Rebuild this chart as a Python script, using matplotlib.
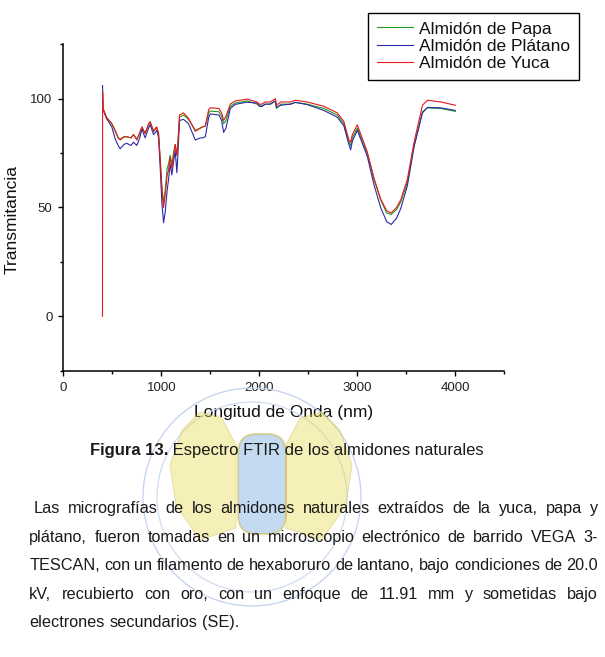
import matplotlib
matplotlib.use("Agg")
import matplotlib.pyplot as plt
from matplotlib.patches import Ellipse, Polygon, FancyBboxPatch
from matplotlib.ticker import MultipleLocator, FixedLocator

plt.rcParams['font.family'] = ['Liberation Sans', 'DejaVu Sans']

# ---------------- data ----------------
wavenumber = [400, 401, 405, 440, 495, 530, 560, 580, 620, 648, 690, 716, 750, 780, 802, 835,
              870, 887, 921, 940, 955, 972, 989, 1006, 1023, 1040, 1060, 1074, 1090, 1108,
              1125, 1142, 1159, 1170, 1186, 1227, 1278, 1347, 1398, 1420, 1449, 1484, 1500,
              1588, 1615, 1636, 1660, 1704, 1755, 1875, 1977, 2000, 2028, 2060, 2113, 2164,
              2175, 2220, 2318, 2369, 2488, 2659, 2796, 2863, 2914, 2932, 2950, 3000, 3102,
              3170, 3238, 3300, 3345, 3400, 3443, 3511, 3579, 3665, 3716, 3852, 4000]

papa = [103, 103, 95.5, 91.5, 88.5, 85.5, 82, 81.5, 82.5, 82.5, 82, 83.5, 81.5, 84, 87, 84,
        88, 89, 85, 86, 86.5, 84, 72, 60, 52, 58, 68, 70, 74, 70,
        75, 79, 74, 80, 91.5, 92.5, 90.5, 85.5, 86.5, 87, 87.5, 93.5, 94.3,
        94, 92, 88.5, 90, 96.5, 98, 99, 97.5, 97, 96.5, 97.5, 97.5, 99,
        95.5, 97.5, 97.5, 98.3, 97.5, 95.5, 92.5, 88.5, 80, 78.5, 82, 86.5, 75,
        63, 53.5, 47.5, 46.8, 49, 52.5, 61.5, 78, 94, 95.8, 95.5, 94.2]

platano = [106, 106, 95, 91, 87, 81.5, 78.5, 77, 79, 79.5, 78.5, 80, 78.5, 82, 86, 82,
           86.5, 88, 83.5, 84.5, 85.5, 82, 68, 52, 43, 48, 58, 63, 70, 65,
           71, 76, 66, 75, 90, 90.5, 88.5, 81, 82, 82, 82.5, 91.5, 93,
           92.5, 90, 84.5, 86.5, 95.5, 97.4, 98.4, 98, 96.5, 96.5, 97.5, 97.5, 99,
           96, 97, 97.5, 98.3, 97.3, 94.6, 91.5, 87.5, 79, 76.5, 80.5, 85.5, 73.5,
           60.5, 50, 43.5, 42.2, 45, 49.5, 60, 78, 93.5, 96, 95.8, 94.6]

yuca = [0, 103, 95.5, 91.5, 88.5, 85, 82, 81, 82.5, 82.5, 82, 83.5, 81, 84.5, 87, 84,
        88.5, 89.5, 85, 86.5, 87, 84, 72, 58, 50, 56, 65, 67, 73, 68,
        74, 79, 74, 80, 92.5, 93.5, 91, 85, 86.5, 87, 87.5, 95, 95.8,
        95.5, 93.5, 90, 92, 97.5, 99, 99.8, 98.5, 97.5, 97.5, 98.5, 98.5, 100,
        97, 98.5, 98.5, 99.3, 98.5, 96.5, 93.5, 89.5, 81, 80, 83.5, 88, 75.5,
        63.5, 54, 48.5, 47.5, 50, 53.5, 63, 80, 97, 99.3, 98.5, 97]

series_names = ["Almidón de Papa", "Almidón de Plátano", "Almidón de Yuca"]
series_colors = ["#1f9a1f", "#2a2aa8", "#e81818"]

x_major = [0, 1000, 2000, 3000, 4000]
y_major = [0, 50, 100]

caption_bold = "Figura 13."
caption_rest = " Espectro FTIR de los almidones naturales"
paragraph_lines = [
    " Las micrografías de los almidones naturales extraídos de la yuca, papa y",
    "plátano, fueron tomadas en un microscopio electrónico de barrido VEGA 3-",
    "TESCAN, con un filamento de hexaboruro de lantano, bajo condiciones de 20.0",
    "kV, recubierto con oro, con un enfoque de 11.91 mm y sometidas bajo",
    "electrones secundarios (SE).",
]

# ---------------- figure ----------------
W, H = 605, 657
fig = plt.figure(figsize=(W / 100, H / 100), dpi=100)
fig.patch.set_facecolor("white")


def fx(px):
    return px / W


def fy(py):
    return 1 - py / H


# watermark (faint logo)
for r, c in [(109, "#c2d2ec"), (95, "#d0dcf0")]:
    fig.patches.append(Ellipse((fx(252), fy(497)), 2 * r / W, 2 * r / H,
                               transform=fig.transFigure, fill=False,
                               edgecolor=c, lw=0.9, zorder=0))
lw_pts = [(236, 445), (222, 418), (200, 412), (182, 430), (170, 465), (176, 505),
          (200, 540), (236, 528)]
rw_pts = [(286, 445), (300, 418), (322, 412), (340, 430), (352, 465), (346, 505),
          (322, 540), (286, 528)]
for pts in (lw_pts, rw_pts):
    fig.patches.append(Polygon([(fx(a), fy(b)) for a, b in pts], closed=True,
                               transform=fig.transFigure, facecolor="#e6d94e",
                               edgecolor="#c4b438", lw=0.6, alpha=0.4, zorder=0))
fig.patches.append(FancyBboxPatch((fx(238), fy(534)), fx(286) - fx(238), fy(434) - fy(534),
                                  boxstyle="round,pad=0,rounding_size=0.03",
                                  transform=fig.transFigure, facecolor="#7aaee0",
                                  edgecolor="#d0b030", lw=1.5, alpha=0.45, zorder=0))

# axes
x0, x1 = 63.3, 504.3
y0, y1 = 44.3, 370.7
ax = fig.add_axes([fx(x0), fy(y1), (x1 - x0) / W, (y1 - y0) / H])
ax.set_facecolor("none")

for name, vals, col in zip(series_names, [papa, platano, yuca], series_colors):
    ax.plot(wavenumber, vals, color=col, lw=0.8, label=name)

ax.set_xlim(0, 4500)
ax.set_ylim(-25, 125)
ax.xaxis.set_major_locator(FixedLocator(x_major))
ax.xaxis.set_minor_locator(MultipleLocator(500))
ax.yaxis.set_major_locator(FixedLocator(y_major))
ax.yaxis.set_minor_locator(MultipleLocator(25))
for s in ("top", "right"):
    ax.spines[s].set_visible(False)
for s in ("left", "bottom"):
    ax.spines[s].set_linewidth(1.1)
ax.tick_params(which="major", direction="out", length=3.8, width=1.0,
               labelsize=9.5, pad=4, labelcolor="#222222")
ax.tick_params(which="minor", direction="out", length=2.3, width=1.0)

ax.set_xlabel("Longitud de Onda (nm)", fontsize=12.5, color="#111111")
ax.set_ylabel("Transmitancia", fontsize=12.5, color="#111111")
ax.xaxis.label.set_va("center")
ax.yaxis.label.set_va("center")
ax.xaxis.set_label_coords(0.5, -(412 - y1) / (y1 - y0))
ax.yaxis.set_label_coords((12 - x0) / (x1 - x0), (y1 - 219) / (y1 - y0))

leg = fig.legend(loc="upper left", bbox_to_anchor=(fx(368), fy(12.7)),
                 bbox_transform=fig.transFigure, borderaxespad=0,
                 fontsize=12.5, frameon=True, fancybox=False, framealpha=1,
                 edgecolor="black", borderpad=0.5, labelspacing=0.12,
                 handlelength=2.1, handletextpad=0.35)
leg.get_frame().set_linewidth(1.0)
for t in leg.get_texts():
    t.set_color("#111111")

# caption and paragraph
renderer = fig.canvas.get_renderer()
txt_col = "#1a1a1a"
fs_cap = 12
fs = 11.7


def width_of(s, size, weight="normal"):
    t = fig.text(0, 0, s, fontsize=size, weight=weight)
    w = t.get_window_extent(renderer=renderer).width
    t.remove()
    return w


fig.text(fx(90), fy(455), caption_bold, fontsize=fs_cap, weight="bold",
         color=txt_col, va="baseline", ha="left")
wb = width_of(caption_bold, fs_cap, "bold")
fig.text(fx(90 + wb), fy(455), caption_rest, fontsize=fs_cap, color=txt_col,
         va="baseline", ha="left")

space_w = width_of("x x", fs) - width_of("xx", fs)
baselines = [513, 542, 570, 598.7, 626.7]
left_margin = 29.3
right_margin = 598
for i, (line, base) in enumerate(zip(paragraph_lines, baselines)):
    start = left_margin
    if line.startswith(" "):
        start += space_w
    words = line.split()
    widths = [width_of(w, fs) for w in words]
    last = i == len(paragraph_lines) - 1
    if last or len(words) == 1:
        gap = space_w
    else:
        gap = (right_margin - start - sum(widths)) / (len(words) - 1)
        gap = max(gap, space_w * 0.8)
    xpos = start
    for w, wd in zip(words, widths):
        fig.text(fx(xpos), fy(base), w, fontsize=fs, color=txt_col,
                 va="baseline", ha="left")
        xpos += wd + gap

fig.savefig("out.png", dpi=100, facecolor="white")
